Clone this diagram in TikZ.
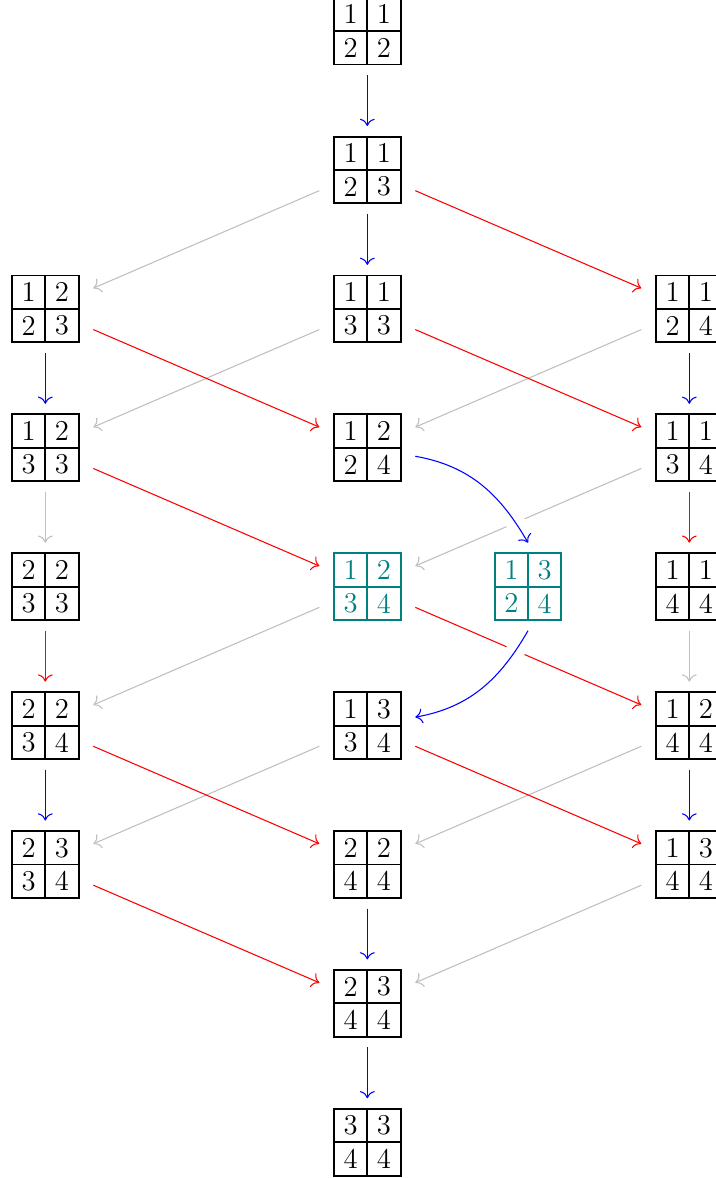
\documentclass[tikz,border=0pt]{standalone}
\usepackage{fontspec}
\usetikzlibrary{arrows.meta}
\definecolor{tealc}{rgb}{0,0.5,0.5}
\tikzset{
  box/.style={rectangle, minimum width=45.12pt, minimum height=41.36pt, inner sep=0pt, outer sep=0pt},
  tabline/.style={line width=0.9pt},
  digit/.style={inner sep=0pt, font=\fontsize{13.5}{16}\selectfont},
  arr/.style={-{To[length=3.4pt,width=7pt]}, line width=0.5pt},
  grayarr/.style={arr, lightgray},
  redarr/.style={arr, red},
  bluearr/.style={arr, blue},
  halo/.style={preaction={draw=white, line width=9pt, -}},
}
\newcommand\yt[7][black]{%
  \node[box] (#2) at (#3) {};
  \draw[tabline,draw=#1] (#2.center) ++(-15.7pt,-15.7pt) rectangle ++(31.4pt,31.4pt)
     (#2.center) ++(-15.7pt,0pt) -- ++(31.4pt,0pt)
     (#2.center) ++(0pt,-15.7pt) -- ++(0pt,31.4pt);
  \node[digit, text=#1] at ([shift={(-7.85pt,7.85pt)}]#2.center) {#4};
  \node[digit, text=#1] at ([shift={(7.85pt,7.85pt)}]#2.center) {#5};
  \node[digit, text=#1] at ([shift={(-7.85pt,-7.85pt)}]#2.center) {#6};
  \node[digit, text=#1] at ([shift={(7.85pt,-7.85pt)}]#2.center) {#7};
}
\begin{document}
\begin{tikzpicture}[x=0.47pt,y=0.47pt]
\useasboundingbox (0,0) rectangle (716,-1178);
\clip (0,0) rectangle (716,-1178);
% row 0
\yt{r0M}{367.3,-31.1}{1}{1}{2}{2}
% row 1
\yt{r1M}{367.3,-170}{1}{1}{2}{3}
% row 2
\yt{r2L}{45.3,-308.9}{1}{2}{2}{3}
\yt{r2M}{367.3,-308.9}{1}{1}{3}{3}
\yt{r2R}{689.3,-308.9}{1}{1}{2}{4}
% row 3
\yt{r3L}{45.3,-447.8}{1}{2}{3}{3}
\yt{r3M}{367.3,-447.8}{1}{2}{2}{4}
\yt{r3R}{689.3,-447.8}{1}{1}{3}{4}
% row 4
\yt{r4L}{45.3,-586.7}{2}{2}{3}{3}
\yt[tealc]{r4M}{367.3,-586.7}{1}{2}{3}{4}
\yt[tealc]{r4T}{528,-586.7}{1}{3}{2}{4}
\yt{r4R}{689.3,-586.7}{1}{1}{4}{4}
% row 5
\yt{r5L}{45.3,-725.6}{2}{2}{3}{4}
\yt{r5M}{367.3,-725.6}{1}{3}{3}{4}
\yt{r5R}{689.3,-725.6}{1}{2}{4}{4}
% row 6
\yt{r6L}{45.3,-864.5}{2}{3}{3}{4}
\yt{r6M}{367.3,-864.5}{2}{2}{4}{4}
\yt{r6R}{689.3,-864.5}{1}{3}{4}{4}
% row 7
\yt{r7M}{367.3,-1003.4}{2}{3}{4}{4}
% row 8
\yt{r8M}{367.3,-1142.3}{3}{3}{4}{4}
% gray edges
\draw[grayarr] (r1M) -- (r2L);
\draw[grayarr] (r2M) -- (r3L);
\draw[grayarr] (r2R) -- (r3M);
\draw[grayarr] (r3L) -- (r4L);
\draw[grayarr] (r3R) -- (r4M);
\draw[grayarr] (r4M) -- (r5L);
\draw[grayarr] (r4R) -- (r5R);
\draw[grayarr] (r5M) -- (r6L);
\draw[grayarr] (r5R) -- (r6M);
\draw[grayarr] (r6R) -- (r7M);
% red edges
\draw[redarr] (r1M) -- (r2R);
\draw[redarr] (r2L) -- (r3M);
\draw[redarr] (r2M) -- (r3R);
\draw[redarr] (r3L) -- (r4M);
\draw[redarr] (r3R) -- (r4R);
\draw[redarr] (r4L) -- (r5L);
\draw[redarr] (r4M) -- (r5R);
\draw[redarr] (r5L) -- (r6M);
\draw[redarr] (r5M) -- (r6R);
\draw[redarr] (r6L) -- (r7M);
% blue edges
\draw[bluearr] (r0M) -- (r1M);
\draw[bluearr] (r1M) -- (r2M);
\draw[bluearr] (r2L) -- (r3L);
\draw[bluearr] (r2R) -- (r3R);
\draw[bluearr] (r5L) -- (r6L);
\draw[bluearr] (r5R) -- (r6R);
\draw[bluearr] (r6M) -- (r7M);
\draw[bluearr] (r7M) -- (r8M);
\draw[bluearr, halo] (r3M) to[out=-10, in=120] (r4T.north);
\draw[bluearr, halo] (r4T.south) to[out=-120, in=10] (r5M);
\end{tikzpicture}
\end{document}
